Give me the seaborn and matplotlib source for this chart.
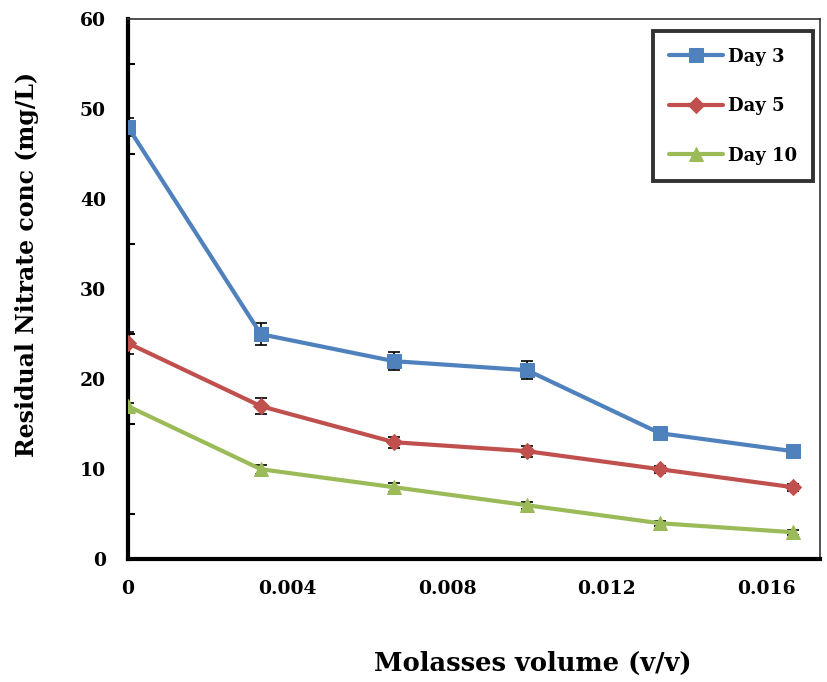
import numpy as np
import pandas as pd
import matplotlib.pyplot as plt
import seaborn as sns

# data
molasses = [0, 0.00333, 0.00667, 0.01, 0.01333, 0.01667]
day3 = [48, 25, 22, 21, 14, 12]
day5 = [24, 17, 13, 12, 10, 8]
day10 = [17, 10, 8, 6, 4, 3]
err3 = [1.0, 1.2, 1.0, 1.0, 0.5, 0.4]
err5 = [1.2, 0.9, 0.6, 0.6, 0.4, 0.4]
err10 = [0.4, 0.5, 0.5, 0.4, 0.3, 0.3]
series = ['Day 3', 'Day 5', 'Day 10']

df = pd.DataFrame({
    'x': molasses * 3,
    'y': day3 + day5 + day10,
    'err': err3 + err5 + err10,
    'serie': np.repeat(series, len(molasses)),
})

sns.set_style('white')
plt.rcParams['font.family'] = ['DejaVu Serif']
plt.rcParams['font.weight'] = 'bold'
plt.rcParams['text.color'] = 'black'
plt.rcParams['axes.labelcolor'] = 'black'
plt.rcParams['xtick.color'] = 'black'
plt.rcParams['ytick.color'] = 'black'

cores = {'Day 3': '#4F81BD', 'Day 5': '#C0504D', 'Day 10': '#9BBB59'}
marcas = {'Day 3': 's', 'Day 5': 'D', 'Day 10': '^'}
tamanhos = {'Day 3': 10, 'Day 5': 8.5, 'Day 10': 10.5}

fig = plt.figure(figsize=(8.28, 6.82), dpi=100)
ax = fig.add_axes([0.1546, 0.180, 0.836, 0.792])

for s in series:
    d = df[df['serie'] == s]
    ax.errorbar(d['x'], d['y'], yerr=d['err'], fmt='none', ecolor='black',
                elinewidth=1.2, capsize=4, capthick=1.2, zorder=2)
    sns.lineplot(data=d, x='x', y='y', color=cores[s], marker=marcas[s],
                 markersize=tamanhos[s], markeredgecolor=cores[s], linewidth=3,
                 label=s, ax=ax, zorder=3)

ax.set_xlim(0, 0.01735)
ax.set_ylim(0, 60)
ax.set_xticks([0, 0.004, 0.008, 0.012, 0.016])
ax.set_xticklabels(['0', '0.004', '0.008', '0.012', '0.016'])
ax.set_yticks(range(0, 61, 10))
ax.set_yticks(range(5, 60, 10), minor=True)
ax.tick_params(axis='both', labelsize=13.5, width=2, color='black', labelcolor='black')
ax.tick_params(axis='y', which='major', direction='inout', length=10, pad=11)
ax.tick_params(axis='y', which='minor', direction='in', length=5, width=1.5, left=True)
ax.tick_params(axis='x', which='major', direction='out', length=6, pad=9)
for lab in ax.get_xticklabels() + ax.get_yticklabels():
    lab.set_fontweight('bold')

for lado in ['left', 'bottom']:
    ax.spines[lado].set_linewidth(3)
    ax.spines[lado].set_color('black')
for lado in ['top', 'right']:
    ax.spines[lado].set_linewidth(1.2)
    ax.spines[lado].set_color('#333333')

ax.set_xlabel('Molasses volume (v/v)', fontsize=18.5, fontweight='bold', color='black')
ax.set_ylabel('Residual Nitrate conc (mg/L)', fontsize=17, fontweight='bold', color='black')
ax.xaxis.set_label_coords(0.585, -0.17)
ax.yaxis.set_label_coords(-0.128, 0.545)

leg = ax.legend(loc='upper right', bbox_to_anchor=(1.003, 0.994), fontsize=13,
                frameon=True, fancybox=False, edgecolor='black', handlelength=3.0,
                labelspacing=1.75, borderpad=0.9, handletextpad=0.25)
leg.get_frame().set_linewidth(2.8)
for t in leg.get_texts():
    t.set_fontweight('bold')
    t.set_color('black')

fig.savefig('out.png', dpi=100)
